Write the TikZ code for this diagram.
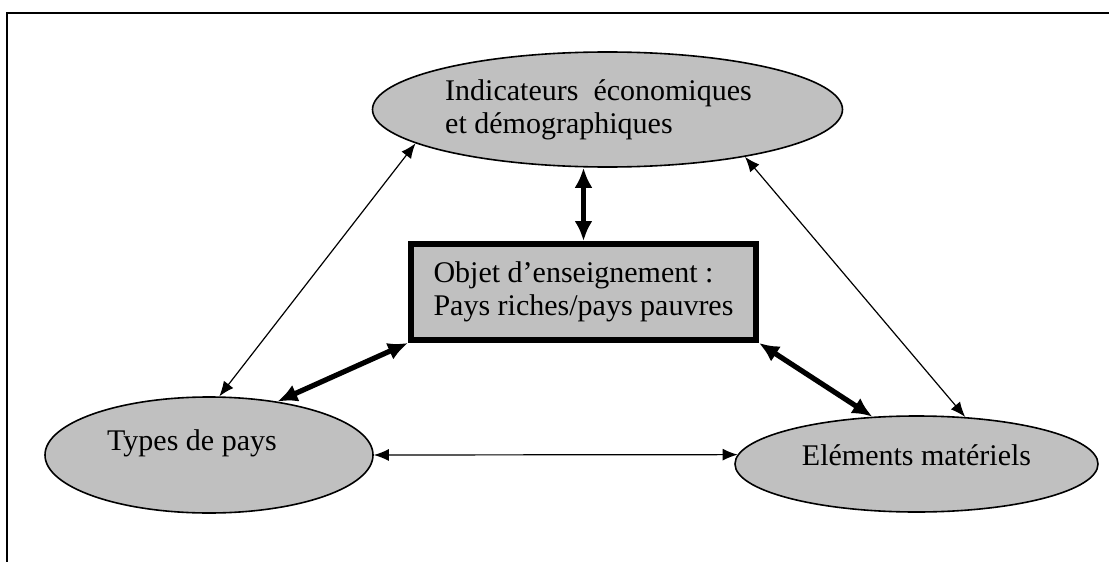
\documentclass[tikz,border=0pt]{standalone}
\usepackage{fontspec}
\setmainfont{Liberation Serif}
\usetikzlibrary{arrows.meta,shapes.geometric}
\definecolor{silver}{RGB}{192,192,192}

\begin{document}
\begin{tikzpicture}
        [x=0.5pt, y=-0.5pt,
        blob/.style={ellipse, draw, fill=silver, line width=0.8pt, inner sep=0pt},
        objet/.style={rectangle, draw, fill=silver, line width=3pt, inner sep=0pt, align=left},
        link/.style={<->, >={Latex[length=7.5pt,width=6pt]}, line width=0.6pt},
        strong/.style={<->, >={Latex[length=10pt,width=9pt]}, line width=2.6pt},
        every node/.style={font=\fontsize{15}{16.5}\selectfont}]
        \useasboundingbox (0,0) rectangle (1109,562);
        \draw[line width=1.2pt] (7,562) -- (7,13) -- (1109,13);
        \node[blob, minimum width=235pt, minimum height=57.5pt, align=left] (ind) at (607.5,109.5) {Indicateurs~~économiques\hspace*{9pt}\\et démographiques};
        \node[objet, minimum width=172.5pt, minimum height=48pt] (obj) at (583.5,292) {Objet d’enseignement :\\Pays riches/pays pauvres};
        \node[blob, minimum width=164pt, minimum height=58pt, text height=10pt, text depth=15pt] (types) at (209,455) {Types de pays\hspace*{17pt}};
        \node[blob, minimum width=181.5pt, minimum height=48pt, text height=10pt, text depth=9pt] (elem) at (916.5,464) {Eléments matériels};
        \draw[link] (ind.190) -- (types.80);
        \draw[link] (ind.-19) -- (elem.44);
        \draw[link] (types.east) -- (elem.177);
        \draw[strong] (obj.north) -- (obj.north |- ind.south);
        \draw[strong] (obj.south west) -- (types.38);
        \draw[strong] (obj.south east) -- (elem.133);
    \end{tikzpicture}
\end{document}
